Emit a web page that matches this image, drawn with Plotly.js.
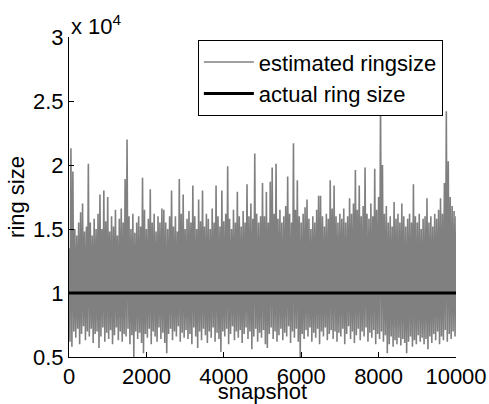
<!DOCTYPE html>
<html>
<head>
<meta charset="utf-8">
<script src="https://cdn.plot.ly/plotly-3.0.1.min.js"></script>
<style>html,body{margin:0;padding:0;background:#fff}#chart{width:489px;height:404px}</style>
</head>
<body>
<div id="chart"></div>
<script>
// values in units of 10^4 (axis multiplier shown as "x 10^4")
const snapshotStep = 50;          // spacing between successive read envelope samples
const snapshotMax = 10000;
// upper peaks of the estimated ring size, read at snapshots 0, 50, 100, ... 10000
const estimatedUpper = [
  1.35, 2.13, 1.95, 1.50, 1.45, 1.55, 1.63, 1.70, 1.48, 1.52,
  2.01, 1.55, 1.45, 1.58, 1.50, 1.62, 1.77, 1.50, 1.80, 1.56,
  1.75, 1.48, 1.60, 1.52, 1.65, 1.45, 1.58, 1.66, 1.55, 1.89,
  2.20, 1.60, 1.50, 1.62, 1.47, 1.55, 1.60, 1.52, 1.90, 1.65,
  1.50, 1.58, 1.81, 1.55, 1.62, 1.48, 1.60, 1.55, 1.66, 1.65,
  1.55, 1.50, 1.60, 1.80, 1.52, 1.60, 1.48, 1.89, 1.62, 1.77,
  1.50, 1.58, 1.64, 1.55, 1.84, 1.60, 1.50, 1.73, 1.56, 1.80,
  1.52, 1.62, 1.58, 1.50, 1.66, 1.55, 1.84, 1.60, 1.52, 1.80,
  1.56, 1.62, 1.99, 1.58, 1.50, 1.65, 1.55, 1.79, 1.60, 1.52,
  1.64, 1.55, 1.85, 1.60, 1.70, 1.58, 2.09, 1.62, 1.55, 1.60,
  1.86, 1.60, 1.79, 1.55, 1.87, 1.98, 1.62, 2.01, 1.58, 1.65,
  1.55, 1.60, 1.68, 1.91, 1.62, 1.55, 2.17, 1.65, 1.88, 1.60,
  1.55, 1.62, 1.67, 1.73, 1.58, 1.50, 1.60, 1.55, 1.65, 1.76,
  1.76, 1.60, 1.52, 1.62, 1.58, 1.88, 1.66, 1.84, 1.60, 1.55,
  1.62, 1.58, 1.66, 1.55, 1.60, 1.74, 1.62, 1.70, 1.96, 1.65,
  1.84, 1.60, 1.68, 1.98, 1.62, 1.58, 1.70, 1.60, 1.97, 1.65,
  1.75, 2.53, 2.00, 1.62, 1.68, 1.55, 1.60, 1.52, 1.71, 1.58,
  1.62, 1.55, 1.70, 1.60, 1.52, 1.58, 1.62, 1.55, 1.85, 1.60,
  1.55, 1.62, 1.50, 1.58, 1.60, 1.74, 1.55, 1.60, 1.52, 1.62,
  1.58, 1.65, 1.74, 1.62, 1.86, 2.42, 2.03, 1.75, 1.68, 1.64,
  1.60
];
// lower troughs of the estimated ring size, read at snapshots 25, 75, 125, ... 9975
const estimatedLower = [
  0.62, 0.58, 0.70, 0.65, 0.72, 0.60, 0.68, 0.74, 0.63, 0.70,
  0.66, 0.72, 0.61, 0.68, 0.70, 0.57, 0.66, 0.73, 0.62, 0.69,
  0.64, 0.71, 0.60, 0.67, 0.73, 0.63, 0.70, 0.62, 0.68, 0.66,
  0.72, 0.60, 0.67, 0.50, 0.70, 0.64, 0.69, 0.61, 0.53, 0.68,
  0.65, 0.72, 0.60, 0.70, 0.66, 0.62, 0.73, 0.64, 0.69, 0.61,
  0.53, 0.68, 0.72, 0.63, 0.70, 0.66, 0.74, 0.62, 0.69, 0.65,
  0.71, 0.64, 0.68, 0.60, 0.73, 0.66, 0.57, 0.70, 0.63, 0.72,
  0.67, 0.61, 0.70, 0.65, 0.73, 0.62, 0.69, 0.64, 0.54, 0.70,
  0.66, 0.72, 0.60, 0.68, 0.74, 0.63, 0.70, 0.65, 0.71, 0.61,
  0.68, 0.73, 0.64, 0.70, 0.56, 0.66, 0.72, 0.62, 0.69, 0.65,
  0.71, 0.60, 0.57, 0.68, 0.73, 0.64, 0.70, 0.62, 0.67, 0.72,
  0.63, 0.69, 0.66, 0.74, 0.61, 0.70, 0.65, 0.72, 0.62, 0.50,
  0.68, 0.64, 0.71, 0.66, 0.73, 0.62, 0.69, 0.65, 0.72, 0.60,
  0.70, 0.66, 0.73, 0.63, 0.68, 0.71, 0.64, 0.70, 0.62, 0.69,
  0.66, 0.72, 0.60, 0.68, 0.74, 0.64, 0.70, 0.61, 0.67, 0.72,
  0.63, 0.70, 0.66, 0.73, 0.62, 0.69, 0.65, 0.71, 0.60, 0.68,
  0.64, 0.70, 0.62, 0.67, 0.53, 0.60, 0.66, 0.58, 0.63, 0.60,
  0.65, 0.59, 0.64, 0.61, 0.53, 0.62, 0.66, 0.58, 0.63, 0.60,
  0.67, 0.62, 0.65, 0.60, 0.64, 0.56, 0.66, 0.61, 0.68, 0.63,
  0.70, 0.60, 0.66, 0.63, 0.71, 0.62, 0.68, 0.64, 0.70, 0.66
];
const actualSnapshots = [0, 10000];
const actualSize = [1, 1];
const xTickVals = [0, 2000, 4000, 6000, 8000, 10000];
const xTickText = ["0", "2000", "4000", "6000", "8000", "10000"];
const yTickVals = [0.5, 1, 1.5, 2, 2.5, 3];
const yTickText = ["0.5", "1", "1.5", "2", "2.5", "3"];

// interleave peaks and troughs into one trace
const estX = [], estY = [];
for (let k = 0; k < estimatedLower.length; k++) {
  estX.push(k * snapshotStep); estY.push(estimatedUpper[k]);
  estX.push(k * snapshotStep + snapshotStep / 2); estY.push(estimatedLower[k]);
}
estX.push(snapshotMax); estY.push(estimatedUpper[estimatedUpper.length - 1]);

const FONT = "Liberation Sans, Arial, Helvetica, sans-serif";
const FS = 22;
const data = [
  {x: estX, y: estY, type: "scatter", mode: "lines", name: "estimated ringsize",
   line: {color: "#808080", width: 1.6}},
  {x: actualSnapshots, y: actualSize, type: "scatter", mode: "lines", name: "actual ring size",
   line: {color: "#000000", width: 3}}
];
const layout = {
  width: 489, height: 404,
  margin: {l: 69, r: 33, t: 37, b: 47, pad: 0},
  paper_bgcolor: "#fff", plot_bgcolor: "#fff",
  font: {family: FONT, size: FS, color: "#000"},
  showlegend: true,
  legend: {x: 0.333, y: 0.99, xanchor: "left", yanchor: "top",
           bgcolor: "#fff", bordercolor: "#000", borderwidth: 1,
           font: {family: FONT, size: FS, color: "#000"}, itemwidth: 50,
           tracegroupgap: 0},
  xaxis: {range: [0, 10000], tickvals: xTickVals, ticktext: xTickText,
          ticks: "inside", ticklen: 5, tickcolor: "#000", showline: true,
          linecolor: "#000", linewidth: 1, mirror: false, showgrid: false, zeroline: false,
          title: {text: "snapshot", standoff: 0, font: {family: FONT, size: FS}}},
  yaxis: {range: [0.5, 3], tickvals: yTickVals, ticktext: yTickText,
          ticks: "inside", ticklen: 5, tickcolor: "#000", showline: true,
          linecolor: "#000", linewidth: 1, mirror: false, showgrid: false, zeroline: false,
          title: {text: "ring size", standoff: 2, font: {family: FONT, size: FS}}},
  annotations: [{xref: "paper", yref: "paper", x: 0, y: 1, xanchor: "left", yanchor: "bottom",
                 yshift: -4, text: "x 10<sup>4</sup>", showarrow: false,
                 font: {family: FONT, size: FS, color: "#000"}}]
};
Plotly.newPlot("chart", data, layout, {displayModeBar: false, staticPlot: true});
</script>
</body>
</html>
